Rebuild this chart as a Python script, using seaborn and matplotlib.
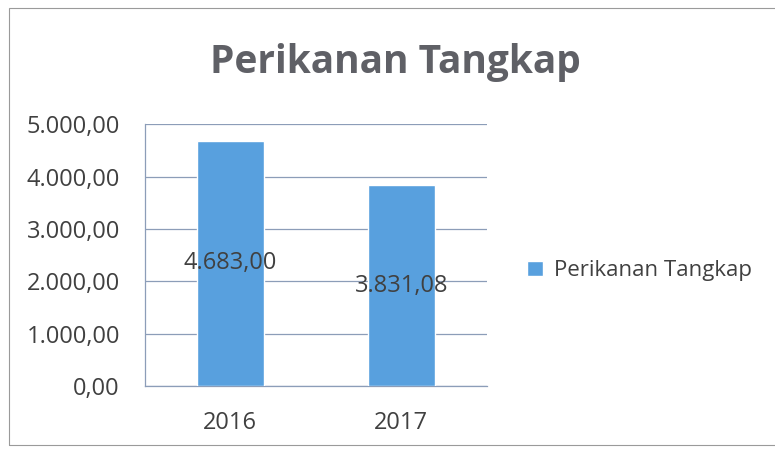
import pandas as pd
import matplotlib.pyplot as plt
import seaborn as sns
from matplotlib.ticker import FuncFormatter

years = ['2016', '2017']
values = [4683.00, 3831.08]
series = 'Perikanan Tangkap'

sns.set_theme(style='white')
plt.rcParams['font.family'] = ['Open Sans', 'DejaVu Sans']


def id_fmt(v, pos=None):
    # 4683.0 -> 4.683,00
    s = f"{v:,.2f}"
    return s.replace(',', '_').replace('.', ',').replace('_', '.')


df = pd.DataFrame({'year': years, 'value': values, 'series': series})

fig = plt.figure(figsize=(7.75, 4.5), dpi=100)
ax = fig.add_axes([0.187, 0.142, 0.441, 0.582])

bar_color = '#58A0DE'
grid_color = '#8C9DB8'
text_color = '#404040'

sns.barplot(data=df, x='year', y='value', hue='series', palette=[bar_color],
            saturation=1, width=0.39, ax=ax, zorder=3)

ax.set_ylim(0, 5000)
ax.set_yticks([0, 1000, 2000, 3000, 4000, 5000])
ax.yaxis.set_major_formatter(FuncFormatter(id_fmt))
ax.set_xlim(-0.5, 1.5)
ax.grid(axis='y', color=grid_color, linewidth=0.9, zorder=0)
ax.set_xlabel('')
ax.set_ylabel('')

for side in ['top', 'right']:
    ax.spines[side].set_visible(False)
for side in ['left', 'bottom']:
    ax.spines[side].set_color(grid_color)
    ax.spines[side].set_linewidth(0.9)

ax.tick_params(axis='y', labelsize=17, colors=text_color, length=6,
               color=grid_color, direction='out', pad=12)
ax.tick_params(axis='x', labelsize=17, colors=text_color, length=0, pad=18)
# category boundary ticks on the x axis
ax.set_xticks([-0.5, 0.5, 1.5], minor=True)
ax.tick_params(axis='x', which='minor', length=6, color=grid_color, direction='out')

for c in ax.containers:
    ax.bar_label(c, labels=[id_fmt(v) for v in values], label_type='center',
                 fontsize=17, color=text_color)

leg = ax.legend(loc='center left', bbox_to_anchor=(1.06, 0.44), frameon=False,
                fontsize=16, handlelength=0.7, handleheight=0.7, handletextpad=0.5,
                labelcolor=text_color)

fig.text(0.51, 0.862, 'Perikanan Tangkap', ha='center', va='center',
         fontsize=28, fontweight='bold', color='#5F6066')

# chart frame
frame = plt.Rectangle((0.011, 0.012), 1.2, 0.97, transform=fig.transFigure,
                      fill=False, edgecolor='#9A9A9A', linewidth=0.8)
fig.patches.append(frame)

fig.savefig('out.png', dpi=100)
